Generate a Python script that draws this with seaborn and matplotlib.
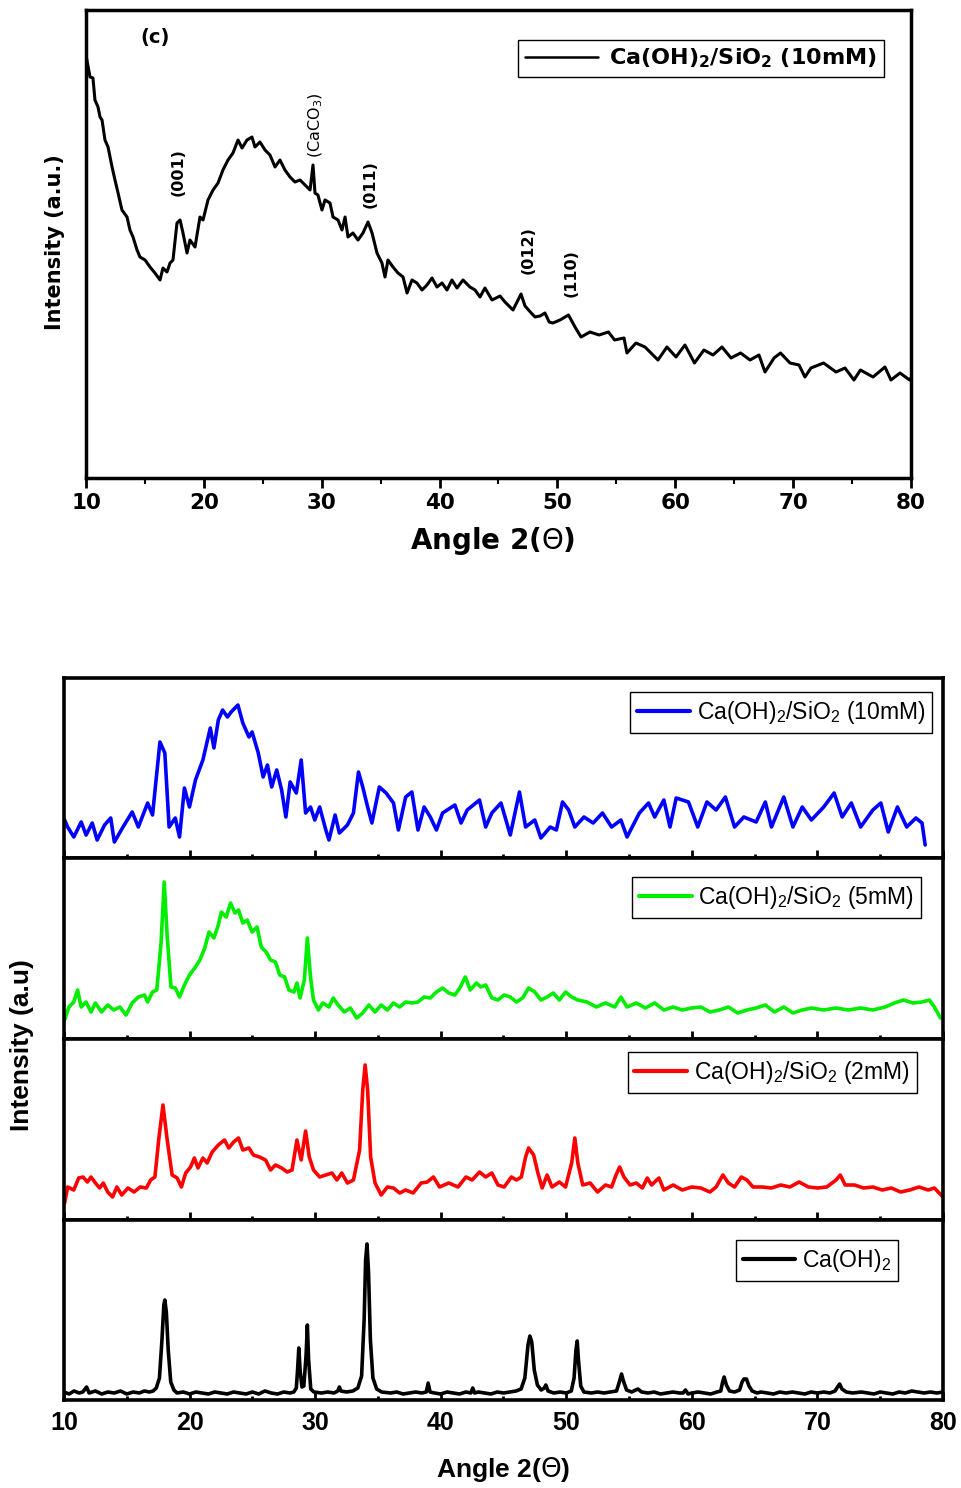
import matplotlib
matplotlib.use('Agg')
import matplotlib.pyplot as plt
import seaborn as sns
from matplotlib.ticker import MultipleLocator

sns.set_style('ticks')
plt.rcParams['font.family'] = ['DejaVu Sans']
plt.rcParams['text.color'] = 'black'
plt.rcParams['axes.labelcolor'] = 'black'
plt.rcParams['xtick.color'] = 'black'
plt.rcParams['ytick.color'] = 'black'

# ---- panel (c): Ca(OH)2/SiO2 10mM ----
angle_c = [10.00, 10.34, 10.59, 10.76, 11.02, 11.19, 11.36, 11.61, 11.87, 12.21, 12.46, 12.72,
           13.05, 13.48, 13.73, 13.99, 14.33, 14.58, 15.01, 15.43, 15.85, 16.28, 16.53, 16.87,
           17.13, 17.38, 17.72, 17.98, 18.23, 18.57, 18.82, 19.25, 19.67, 19.93, 20.35, 20.78,
           21.20, 21.62, 22.05, 22.47, 22.90, 23.24, 23.66, 24.08, 24.34, 24.76, 25.19, 25.61,
           26.04, 26.46, 26.88, 27.31, 27.73, 28.16, 28.58, 29.01, 29.26, 29.43, 29.68, 30.02,
           30.28, 30.70, 30.96, 31.38, 31.72, 31.98, 32.23, 32.65, 33.08, 33.50, 33.93, 34.27,
           34.69, 35.11, 35.37, 35.62, 36.05, 36.47, 36.90, 37.24, 37.66, 38.08, 38.51, 38.93,
           39.36, 39.78, 40.21, 40.63, 41.05, 41.48, 41.99, 42.58, 43.01, 43.43, 43.85, 44.45,
           45.13, 45.55, 46.23, 46.91, 47.25, 47.70, 48.10, 48.52, 48.94, 49.30, 49.62, 50.22,
           50.94, 51.49, 52.00, 52.76, 53.53, 54.33, 54.85, 55.65, 55.90, 56.66, 57.43, 58.53,
           59.29, 60.06, 60.82, 61.63, 62.43, 63.20, 63.96, 64.73, 65.54, 66.34, 67.10, 67.61,
           68.38, 68.93, 69.73, 70.50, 71.00, 71.51, 72.58, 73.64, 74.40, 75.16, 75.71, 76.78,
           77.79, 78.30, 79.07, 79.88, 80.00]
int_c = [423, 401, 400, 378, 371, 361, 358, 338, 331, 311, 298, 285,
         268, 261, 248, 241, 228, 221, 218, 211, 205, 198, 210, 206,
         215, 218, 255, 258, 245, 225, 238, 231, 261, 258, 278, 288,
         295, 308, 318, 325, 338, 330, 338, 341, 331, 336, 328, 323,
         311, 318, 308, 301, 296, 298, 293, 288, 313, 285, 283, 268,
         278, 275, 261, 258, 248, 261, 241, 245, 238, 245, 256, 245,
         225, 215, 201, 218, 211, 205, 201, 185, 198, 195, 188, 193,
         200, 191, 195, 188, 198, 190, 198, 191, 188, 181, 190, 178,
         182, 176, 168, 184, 172, 166, 161, 162, 165, 156, 155, 158,
         163, 151, 141, 146, 143, 146, 138, 140, 125, 135, 131, 118,
         131, 121, 133, 115, 128, 123, 131, 120, 125, 118, 123, 106,
         120, 125, 115, 113, 101, 110, 115, 106, 110, 98, 108, 101,
         111, 98, 105, 98, 100]

peak_labels = ['(001)', '(CaCO$_3$)', '(011)', '(012)', '(110)']
peak_angles = [17.8, 29.5, 34.1, 47.5, 51.15]
peak_heights = [306, 353, 294, 228, 205]

# ---- stacked patterns ----
angle_10 = [10.05, 10.29, 10.78, 11.37, 11.76, 12.25, 12.64, 13.23, 13.72, 14.01, 14.70, 15.43,
            15.92, 16.66, 17.05, 17.64, 18.03, 18.37, 18.86, 19.20, 19.59, 19.99, 20.47, 21.06,
            21.65, 21.94, 22.29, 22.63, 23.02, 23.31, 23.85, 24.24, 24.73, 24.98, 25.47, 25.86,
            26.20, 26.54, 26.94, 27.33, 27.67, 28.01, 28.50, 28.89, 29.24, 29.63, 29.97, 30.36,
            30.85, 31.10, 31.59, 31.93, 32.57, 33.05, 33.45, 33.79, 34.18, 34.52, 35.11, 35.65,
            36.24, 36.63, 37.21, 37.70, 38.19, 38.68, 39.17, 39.66, 40.15, 41.13, 41.62, 42.11,
            43.09, 43.58, 44.07, 44.80, 45.54, 46.27, 46.76, 47.49, 47.98, 48.72, 49.21, 49.70,
            50.19, 50.68, 51.41, 52.14, 52.88, 53.61, 54.35, 54.84, 55.82, 56.55, 57.04, 57.77,
            58.26, 58.75, 59.73, 60.47, 61.20, 61.93, 62.67, 63.40, 64.14, 65.12, 65.85, 66.34,
            67.32, 68.05, 68.79, 69.52, 70.50, 71.33, 71.97, 72.70, 73.44, 74.41, 75.05, 75.64,
            76.37, 77.11, 77.84, 78.33, 78.58]
int_10 = [38, 31, 21, 36, 23, 35, 18, 33, 40, 16, 31, 46,
          31, 55, 43, 116, 105, 31, 40, 21, 70, 51, 78, 98,
          130, 110, 138, 148, 141, 146, 153, 135, 121, 126, 105, 81,
          93, 71, 88, 68, 41, 76, 65, 98, 45, 51, 38, 51,
          28, 18, 43, 25, 33, 45, 86, 71, 51, 35, 71, 65,
          55, 28, 61, 66, 28, 51, 41, 28, 45, 53, 35, 48,
          58, 31, 45, 55, 23, 66, 31, 38, 20, 31, 28, 56,
          48, 31, 41, 35, 45, 31, 38, 21, 45, 55, 41, 58,
          31, 60, 56, 31, 56, 48, 61, 31, 41, 36, 56, 31,
          61, 31, 51, 38, 51, 65, 41, 55, 31, 48, 55, 26,
          51, 31, 40, 35, 13]

angle_5 = [10.05, 10.39, 10.78, 11.08, 11.37, 11.76, 12.15, 12.50, 12.99, 13.48, 13.96, 14.45,
           14.94, 15.43, 15.92, 16.41, 16.66, 17.05, 17.39, 17.73, 17.98, 18.22, 18.52, 18.86,
           19.20, 19.59, 19.99, 20.47, 20.82, 21.21, 21.55, 21.94, 22.29, 22.53, 22.92, 23.26,
           23.61, 23.90, 24.24, 24.59, 24.98, 25.37, 25.71, 26.10, 26.45, 26.84, 27.18, 27.57,
           27.91, 28.31, 28.55, 28.80, 29.14, 29.38, 29.63, 29.87, 30.26, 30.61, 31.10, 31.44,
           31.83, 32.32, 32.81, 33.30, 33.79, 34.28, 34.77, 35.26, 35.75, 36.24, 36.73, 37.21,
           37.70, 38.19, 38.68, 39.17, 39.66, 40.15, 40.64, 41.13, 41.52, 41.96, 42.35, 42.84,
           43.19, 43.58, 44.07, 44.56, 45.05, 45.54, 46.03, 46.52, 47.00, 47.49, 47.98, 48.47,
           48.96, 49.45, 49.94, 50.43, 50.92, 51.65, 52.39, 53.12, 53.86, 54.35, 54.84, 55.57,
           56.30, 57.04, 57.77, 58.51, 59.24, 59.98, 60.71, 61.44, 62.18, 62.91, 63.65, 64.38,
           65.12, 65.85, 66.58, 67.32, 68.05, 68.79, 69.52, 70.50, 71.48, 72.46, 73.44, 74.41,
           75.39, 76.13, 76.86, 77.60, 78.33, 78.92, 79.31, 79.80]
int_5 = [19, 32, 37, 49, 32, 37, 27, 36, 27, 34, 29, 32,
         24, 36, 42, 44, 37, 47, 49, 96, 157, 102, 52, 51,
         42, 54, 64, 72, 79, 91, 107, 101, 114, 127, 122, 136,
         126, 129, 116, 119, 107, 112, 92, 87, 79, 77, 64, 62,
         49, 47, 56, 41, 59, 101, 62, 39, 29, 36, 32, 41,
         34, 27, 31, 21, 26, 34, 27, 34, 29, 36, 32, 37,
         36, 37, 42, 41, 47, 51, 46, 44, 51, 62, 49, 56,
         52, 54, 41, 39, 44, 42, 37, 41, 51, 47, 39, 42,
         46, 39, 47, 42, 39, 37, 32, 36, 32, 42, 32, 36,
         31, 36, 29, 32, 29, 31, 32, 27, 29, 32, 26, 29,
         31, 34, 27, 32, 26, 29, 31, 29, 31, 29, 31, 29,
         32, 36, 39, 36, 37, 39, 32, 21]

angle_2 = [10.05, 10.29, 10.78, 11.17, 11.52, 11.86, 12.15, 12.50, 12.84, 13.13, 13.48, 13.87,
           14.21, 14.60, 15.09, 15.58, 16.07, 16.56, 16.90, 17.24, 17.54, 17.88, 18.22, 18.61,
           19.01, 19.35, 19.69, 20.08, 20.38, 20.67, 21.06, 21.40, 21.80, 22.29, 22.78, 23.12,
           23.51, 23.90, 24.24, 24.73, 25.08, 25.57, 26.05, 26.45, 26.84, 27.33, 27.77, 28.16,
           28.55, 28.89, 29.24, 29.53, 29.87, 30.36, 30.85, 31.34, 31.73, 32.12, 32.57, 33.05,
           33.54, 33.79, 33.98, 34.18, 34.42, 34.77, 35.26, 35.75, 36.24, 36.73, 37.21, 37.80,
           38.44, 38.93, 39.42, 39.91, 40.64, 41.38, 42.01, 42.50, 43.09, 43.58, 44.07, 44.56,
           45.05, 45.63, 46.03, 46.42, 46.76, 47.00, 47.40, 47.74, 48.08, 48.47, 48.86, 49.45,
           49.94, 50.43, 50.68, 50.92, 51.31, 51.90, 52.49, 53.12, 53.61, 53.96, 54.25, 54.59,
           55.08, 55.57, 56.06, 56.45, 56.79, 57.38, 57.77, 58.51, 59.24, 59.98, 60.71, 61.44,
           61.93, 62.47, 62.91, 63.40, 63.94, 64.38, 64.87, 65.60, 66.34, 67.07, 67.81, 68.54,
           69.28, 70.01, 70.74, 71.48, 71.82, 72.21, 72.95, 73.68, 74.41, 75.15, 75.88, 76.62,
           77.35, 78.08, 78.82, 79.31, 80.00]
int_2 = [17, 33, 30, 42, 43, 38, 43, 37, 32, 37, 28, 23,
         33, 25, 32, 28, 33, 32, 40, 43, 80, 115, 80, 45,
         42, 33, 47, 53, 62, 52, 62, 57, 68, 75, 80, 72,
         78, 82, 70, 72, 65, 63, 60, 50, 55, 52, 48, 50,
         80, 60, 89, 63, 50, 43, 45, 47, 40, 47, 37, 40,
         70, 130, 155, 130, 63, 37, 25, 33, 32, 27, 30, 27,
         37, 38, 43, 33, 37, 33, 43, 40, 48, 43, 47, 35,
         33, 43, 40, 43, 63, 72, 65, 47, 32, 45, 33, 38,
         33, 57, 82, 57, 35, 37, 28, 35, 33, 45, 53, 43,
         35, 37, 32, 42, 35, 42, 30, 35, 30, 33, 32, 28,
         33, 45, 37, 33, 43, 40, 33, 33, 32, 35, 33, 38,
         33, 32, 33, 40, 45, 35, 35, 32, 33, 30, 32, 28,
         30, 33, 30, 32, 23]

angle_0 = [10.0, 10.4, 10.8, 11.2, 11.5, 11.8, 12.0, 12.5, 13.0, 13.5, 14.0, 14.5,
           15.0, 15.5, 16.0, 16.4, 16.8, 17.1, 17.35, 17.6, 17.8, 17.95, 18.03, 18.15,
           18.3, 18.5, 18.75, 19.0, 19.5, 20.0, 20.5, 21.0, 21.5, 22.0, 22.5, 23.0,
           23.5, 24.0, 24.5, 25.0, 25.5, 26.0, 26.5, 27.0, 27.5, 28.0, 28.3, 28.5,
           28.6, 28.7, 28.8, 28.95, 29.1, 29.28, 29.38, 29.48, 29.65, 29.9, 30.5, 31.0,
           31.5, 31.8, 31.93, 32.05, 32.5, 33.0, 33.4, 33.7, 33.9, 34.02, 34.13, 34.25,
           34.4, 34.6, 34.9, 35.3, 36.0, 36.5, 37.0, 37.5, 38.0, 38.5, 38.85, 39.0,
           39.15, 39.5, 40.0, 40.5, 41.0, 41.5, 42.0, 42.4, 42.55, 42.7, 43.0, 43.5,
           44.0, 44.5, 45.0, 45.5, 46.0, 46.4, 46.7, 46.95, 47.1, 47.25, 47.45, 47.7,
           48.0, 48.25, 48.37, 48.55, 49.0, 49.5, 50.0, 50.4, 50.62, 50.77, 50.87, 50.97,
           51.15, 51.4, 52.0, 52.5, 53.0, 53.5, 54.0, 54.2, 54.4, 54.55, 54.8, 55.2,
           55.7, 56.0, 56.5, 57.0, 57.5, 58.0, 58.5, 59.0, 59.3, 59.49, 59.7, 60.0,
           60.5, 61.0, 61.5, 62.0, 62.3, 62.45, 62.57, 62.75, 63.0, 63.4, 63.8, 64.0,
           64.15, 64.35, 64.55, 64.8, 65.2, 65.5, 66.0, 66.5, 67.0, 67.5, 68.0, 68.5,
           69.0, 69.5, 70.0, 70.5, 71.0, 71.4, 71.6, 71.77, 71.95, 72.3, 72.8, 73.5,
           74.0, 74.5, 75.0, 75.5, 76.0, 76.5, 77.0, 77.5, 78.0, 78.5, 79.0, 79.5, 80.0]
int_0 = [8, 6, 9, 7, 8, 13, 7, 9, 6, 8, 7, 9,
         6, 8, 7, 9, 8, 9, 12, 22, 60, 95, 100, 88,
         50, 18, 10, 7, 8, 6, 8, 7, 6, 8, 7, 6,
         8, 7, 6, 8, 6, 9, 7, 6, 8, 7, 8, 12,
         30, 52, 30, 13, 14, 45, 75, 40, 11, 8, 7, 8,
         7, 9, 13, 9, 8, 9, 12, 24, 80, 140, 156, 128,
         60, 22, 11, 8, 7, 8, 6, 7, 8, 7, 8, 17,
         8, 7, 6, 8, 7, 6, 8, 7, 12, 7, 8, 7,
         6, 8, 7, 8, 9, 11, 22, 55, 64, 58, 30, 15,
         10, 12, 15, 9, 7, 8, 7, 9, 22, 50, 59, 40,
         14, 8, 7, 8, 7, 8, 9, 17, 26, 19, 10, 8,
         11, 8, 7, 8, 6, 7, 8, 7, 7, 10, 6, 7,
         8, 7, 6, 8, 9, 18, 23, 15, 9, 8, 10, 18,
         21, 21, 14, 9, 7, 8, 7, 6, 8, 7, 8, 7,
         6, 8, 7, 8, 7, 9, 13, 16, 11, 8, 7, 8,
         7, 6, 8, 7, 6, 8, 7, 9, 8, 7, 8, 7, 8]

series_labels = ['Ca(OH)$\\mathregular{_2}$/SiO$\\mathregular{_2}$ (10mM)',
                 'Ca(OH)$\\mathregular{_2}$/SiO$\\mathregular{_2}$ (5mM)',
                 'Ca(OH)$\\mathregular{_2}$/SiO$\\mathregular{_2}$ (2mM)',
                 'Ca(OH)$\\mathregular{_2}$']
series_colors = ['#0000FF', '#00EE00', '#FF0000', '#000000']

W, H = 962, 1488
fig = plt.figure(figsize=(W / 100, H / 100), dpi=100)

# ---------------- top panel ----------------
ax = fig.add_axes([86 / W, 1 - 478 / H, 825 / W, 468 / H])
sns.lineplot(x=angle_c, y=int_c, ax=ax, color='black', lw=2.2, estimator=None,
             sort=False, label='Ca(OH)$\\mathregular{_2}$/SiO$\\mathregular{_2}$ (10mM)')
ax.set_xlim(10, 80)
ax.set_ylim(0, 468)
ax.set_xlabel('')
ax.set_ylabel('')
ax.set_yticks([])
ax.xaxis.set_major_locator(MultipleLocator(10))
ax.xaxis.set_minor_locator(MultipleLocator(5))
ax.tick_params(axis='x', which='major', direction='out', length=7, width=2, pad=4,
               labelsize=15.5)
ax.tick_params(axis='x', which='minor', direction='out', length=4, width=1.5)
for lbl in ax.get_xticklabels():
    lbl.set_fontweight('bold')
for sp in ax.spines.values():
    sp.set_linewidth(2.5)
    sp.set_color('black')

ax.text(15.85, 441, '(c)', fontsize=14, fontweight='bold', ha='center', va='center')
for lab, xa, ya in zip(peak_labels, peak_angles, peak_heights):
    w = 'normal' if 'CaCO' in lab else 'bold'
    ax.text(xa, ya, lab, rotation=90, fontsize=11.5, fontweight=w, ha='center', va='center')

leg = ax.legend(loc='upper right', bbox_to_anchor=(0.967, 0.936), borderaxespad=0,
                fancybox=False, edgecolor='black', framealpha=1, handlelength=3.3,
                handletextpad=0.5, borderpad=0.3,
                prop={'weight': 'bold', 'size': 16})
leg.get_frame().set_linewidth(1.0)
for ln in leg.get_lines():
    ln.set_linewidth(1.8)

fig.text(493 / W, 1 - 541 / H, 'Angle 2($\\Theta$)', fontsize=20, fontweight='bold',
         ha='center', va='center')
fig.text(55 / W, 1 - 242 / H, 'Intensity (a.u.)', fontsize=15, fontweight='bold',
         rotation=90, ha='center', va='center')

# ---------------- stacked panel ----------------
lib = ['Liberation Sans', 'DejaVu Sans']
tops = [678, 858, 1039, 1220, 1400]
series = [(angle_10, int_10), (angle_5, int_5), (angle_2, int_2), (angle_0, int_0)]
anchors = [(0.9875, 0.922), (0.975, 0.895), (0.970, 0.928), (0.949, 0.889)]

for i, (xs, ys) in enumerate(series):
    y0, y1 = tops[i], tops[i + 1]
    a = fig.add_axes([64 / W, 1 - y1 / H, 879 / W, (y1 - y0) / H])
    sns.lineplot(x=xs, y=ys, ax=a, color=series_colors[i], lw=2.6, estimator=None,
                 sort=False, label=series_labels[i])
    a.set_xlim(10, 80)
    a.set_ylim(0, y1 - y0)
    a.set_xlabel('')
    a.set_ylabel('')
    a.set_yticks([])
    a.xaxis.set_major_locator(MultipleLocator(10))
    a.xaxis.set_minor_locator(MultipleLocator(5))
    a.tick_params(axis='x', which='major', direction='in', length=6, width=2, pad=8,
                  labelsize=18, labelfontfamily='Liberation Sans')
    a.tick_params(axis='x', which='minor', direction='in', length=3, width=2)
    if i < 3:
        a.tick_params(axis='x', labelbottom=False)
    else:
        for lbl in a.get_xticklabels():
            lbl.set_fontweight('bold')
    for sp in a.spines.values():
        sp.set_linewidth(2.6)
        sp.set_color('black')
    lg = a.legend(loc='upper right', bbox_to_anchor=anchors[i], borderaxespad=0,
                  fancybox=False, edgecolor='black', framealpha=1, handlelength=2.3,
                  handletextpad=0.3, borderpad=0.3,
                  prop={'family': lib, 'size': 16.5})
    lg.get_frame().set_linewidth(1.0)
    for ln in lg.get_lines():
        ln.set_linewidth(3)

fig.text(503 / W, 1 - 1470 / H, 'Angle 2($\\Theta$)', fontsize=19, fontweight='bold',
         family=lib, ha='center', va='center')
fig.text(22 / W, 1 - 1045 / H, 'Intensity (a.u)', fontsize=19, fontweight='bold',
         family=lib, rotation=90, ha='center', va='center')

fig.savefig('out.png', dpi=100)
